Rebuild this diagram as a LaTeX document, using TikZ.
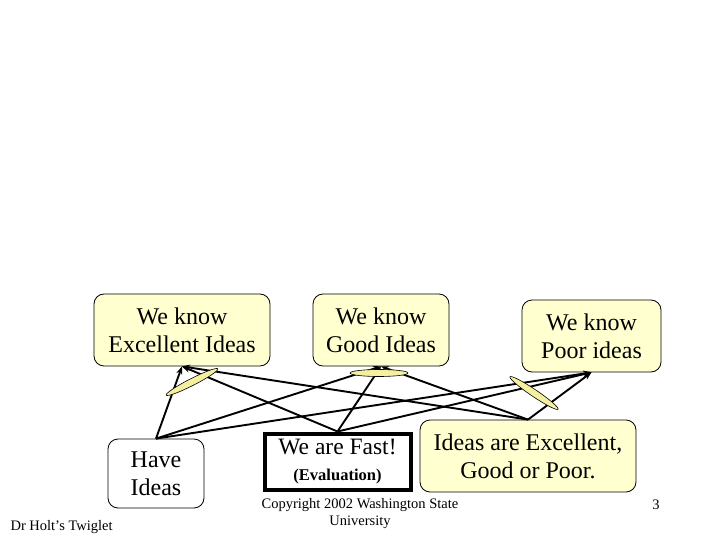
\documentclass[tikz,border=0pt]{standalone}
\usepackage{fontspec}
\setmainfont{Liberation Serif}
\usetikzlibrary{arrows.meta,shapes.geometric}
\definecolor{boxyellow}{RGB}{255,255,208}
\definecolor{ellyellow}{RGB}{245,240,160}
\tikzset{
  idea/.style={draw=black, line width=0.8pt, rounded corners=10pt, fill=boxyellow, align=center, inner sep=0pt, font=\fontsize{24}{28}\selectfont},
  plainbox/.style={idea, fill=white},
  fastbox/.style={draw=black, line width=4pt, fill=white, align=center, inner sep=0pt, font=\fontsize{23.5}{28}\selectfont},
  link/.style={line width=1.9pt, -{Stealth[length=8pt,width=6pt]}},
  lens/.style={ellipse, draw=black, line width=0.6pt, fill=ellyellow, minimum height=7pt, inner sep=0pt},
  small/.style={font=\fontsize{14.5}{17}\selectfont, align=center}
}
\begin{document}
\begin{tikzpicture}[x=1pt,y=-1pt]
\useasboundingbox (0,0) rectangle (720,540);
\node[idea, minimum width=176pt, minimum height=72pt] (ex) at (182,330) {We know\\Excellent Ideas};
\node[idea, minimum width=136pt, minimum height=72pt] (gd) at (381,330) {We know\\Good Ideas};
\node[idea, minimum width=139pt, minimum height=72pt] (po) at (591.5,336) {We know\\Poor ideas};
\node[plainbox, minimum width=96pt, minimum height=69pt] (hi) at (156,473.5) {Have\\Ideas};
\node[fastbox, minimum width=146pt, minimum height=56pt] (fa) at (337.5,461.5) {We are Fast!\\[-2pt]{\fontsize{16.5}{20}\selectfont\bfseries (Evaluation)}};
\node[idea, minimum width=216pt, minimum height=72pt] (ie) at (528,456) {Ideas are Excellent,\\Good or Poor.};

\foreach \s in {hi,fa,ie}{
  \foreach \t in {ex,gd,po}{
    \draw[link] (\s.north) -- (\t.south);
  }
}

\node[lens, minimum width=58pt, rotate=27] (l1) at (192,382) {};
\node[lens, minimum width=58pt, rotate=0] (l2) at (379,373) {};
\node[lens, minimum width=58pt, rotate=-34] (l3) at (534,393) {};

\node[small, anchor=west] (tw) at (7,527) {Dr Holt’s Twiglet};
\node[small] (cp) at (360,513.5) {Copyright 2002 Washington State\\University};
\node[small] (pg) at (656,505) {3};
\end{tikzpicture}
\end{document}
